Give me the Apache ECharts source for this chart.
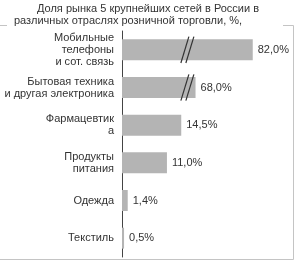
<!DOCTYPE html>
<html>
<head>
<meta charset="utf-8">
<script src="https://cdn.jsdelivr.net/npm/echarts@6/dist/echarts.min.js"></script>
<style>
  html, body { margin: 0; padding: 0; background: #fff; }
  #main { width: 295px; height: 267px; }
</style>
</head>
<body>
<div id="main"></div>
<script>
// категории (сверху вниз)
const categories = [
  "Мобильные\nтелефоны\nи сот. связь",
  "Бытовая техника\nи другая электроника",
  "Фармацевтик\nа",
  "Продукты\nпитания",
  "Одежда",
  "Текстиль"
];
// доля рынка, %
const shares = [82.0, 68.0, 14.5, 11.0, 1.4, 0.5];
// разрыв оси
const breakStart = 16;
const breakEnd = 66;

const font = "'Liberation Sans', Arial, sans-serif";
const textColor = "#333";

// метки "//" для столбцов, которые проходят через разрыв
const breakMarks = [];
shares.forEach(function (v, i) {
  if (v > breakEnd) breakMarks.push([breakStart, i]);
});

const myChart = echarts.init(document.getElementById("main"));

const option = {
  animation: false,
  backgroundColor: "#fff",
  title: [
    {
      text: "Доля рынка 5 крупнейших сетей в России в",
      left: 37,
      top: 3,
      padding: 0,
      textStyle: { fontFamily: font, fontSize: 11, fontWeight: "normal", color: textColor }
    },
    {
      text: "различных отраслях розничной торговли, %,",
      left: 14,
      top: 15,
      padding: 0,
      textStyle: { fontFamily: font, fontSize: 11, fontWeight: "normal", color: textColor }
    }
  ],
  // рамка
  graphic: [
    {
      type: "polyline",
      silent: true,
      shape: { points: [[283, 25.5], [293.5, 25.5], [293.5, 259.5], [-1, 259.5]] },
      style: { stroke: "#c4c4c4", lineWidth: 1, fill: null }
    },
    {
      type: "line",
      silent: true,
      shape: { x1: -1, y1: 25.5, x2: 7, y2: 25.5 },
      style: { stroke: "#c4c4c4", lineWidth: 1 }
    }
  ],
  grid: { left: 122, right: 30, top: 31, bottom: 10, containLabel: false },
  xAxis: {
    type: "value",
    min: 0,
    max: 85,
    breaks: [{ start: breakStart, end: breakEnd, gap: 0 }],
    breakArea: { show: false },
    axisLine: { show: false },
    axisTick: { show: false },
    axisLabel: { show: false },
    splitLine: { show: false }
  },
  yAxis: {
    type: "category",
    inverse: true,
    data: categories,
    axisLine: { show: true, lineStyle: { color: "#444", width: 1 } },
    axisTick: { show: false },
    axisLabel: {
      margin: 8,
      fontFamily: font,
      fontSize: 11,
      lineHeight: 12,
      color: textColor,
      align: "right"
    }
  },
  series: [
    {
      type: "bar",
      data: shares,
      barWidth: 21,
      itemStyle: { color: "#b4b4b4" },
      label: {
        show: true,
        position: "right",
        distance: 5,
        fontFamily: font,
        fontSize: 11,
        color: textColor,
        formatter: function (p) {
          return p.value.toFixed(1).replace(".", ",") + "%";
        }
      }
    },
    {
      type: "custom",
      data: breakMarks,
      z: 5,
      silent: true,
      renderItem: function (params, api) {
        const pt = api.coord([api.value(0), api.value(1)]);
        const h = api.size([0, 1])[1] * 0.7;
        const children = [];
        [-2.5, 2.5].forEach(function (dx) {
          children.push({
            type: "line",
            shape: {
              x1: pt[0] + dx + 4, y1: pt[1] - h / 2,
              x2: pt[0] + dx - 4, y2: pt[1] + h / 2
            },
            style: { stroke: "#333", lineWidth: 1.2 }
          });
        });
        return { type: "group", children: children };
      }
    }
  ]
};

myChart.setOption(option);
</script>
</body>
</html>
